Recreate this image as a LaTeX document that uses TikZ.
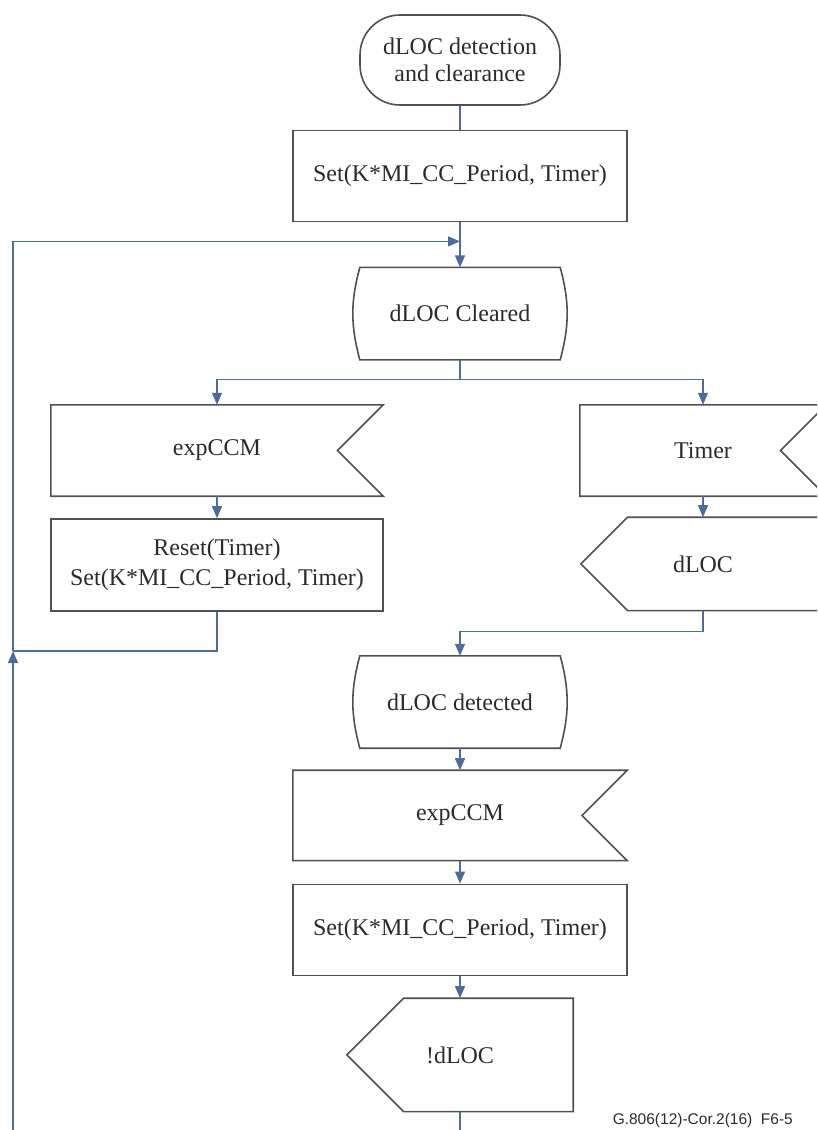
\documentclass[tikz,border=0pt]{standalone}
\usepackage{fontspec}
\setmainfont{Liberation Serif}
\newfontfamily\capfont{Liberation Sans}
\usepackage{xcolor}
\usepackage{tikz}
\usetikzlibrary{arrows.meta,positioning,calc}
\definecolor{boxgray}{HTML}{505050}
\definecolor{flowblue}{HTML}{4D6B9C}
\definecolor{txtgray}{HTML}{2B2B2B}
\tikzset{
  base/.style={align=center,font=\fontsize{24}{30}\selectfont,text=txtgray,inner sep=2pt},
  outline/.style={draw=boxgray,line width=1.6pt},
  termbox/.style={base,outline,rounded corners=40pt,minimum width=200pt,minimum height=90pt,font=\fontsize{24}{27}\selectfont},
  procbox/.style={base,outline,minimum width=334pt,minimum height=91pt},
  statebox/.style={base,minimum width=200pt,minimum height=92pt},
  insig/.style={base,minimum width=334pt,minimum height=91pt},
  outsig/.style={base,minimum height=93pt},
  ln/.style={draw=flowblue,line width=1.3pt},
  ar/.style={ln,-{Triangle[length=12pt,width=10pt]}},
}
\begin{document}
\begin{tikzpicture}[x=1pt,y=1pt]
  \useasboundingbox (0,0) rectangle (817,-1130);
  \clip (0,0) rectangle (817,-1130);
  \node[termbox] (start) at (460,-60) {dLOC detection\\and clearance};
  \node[procbox,below=24pt of start] (setA) {Set(K*MI\_CC\_Period, Timer)};
  \node[statebox,below=45pt of setA] (clr) {dLOC Cleared};
  \node[insig,minimum width=332pt,below=45pt of clr,xshift=-243pt] (expA) {expCCM};
  \node[insig,minimum width=246pt,below=45pt of clr,xshift=243pt] (tmr) {Timer};
  \node[procbox,minimum width=332pt,minimum height=92pt,below=22pt of expA] (rst) {Reset(Timer)\\Set(K*MI\_CC\_Period, Timer)};
  \node[outsig,minimum width=244pt,below=21pt of tmr] (dloc) {dLOC};
  \coordinate (midB) at (rst.south -| clr.south);
  \node[statebox,below=44pt of midB] (det) {dLOC detected};
  \node[insig,minimum height=90pt,below=22pt of det] (expB) {expCCM};
  \node[procbox,below=23pt of expB] (setB) {Set(K*MI\_CC\_Period, Timer)};
  \node[outsig,minimum width=226pt,minimum height=113pt,below=22pt of setB] (ndloc) {!dLOC};
  \node[font=\capfont\fontsize{15.5}{18}\selectfont,text=txtgray,anchor=base east,inner sep=0pt] (cap) at (793,-1124) {G.806(12)-Cor.2(16)\ \ F6-5};

  % state, input and output symbols
  \foreach \s in {clr,det}
    \draw[outline] (\s.north west) to[bend right=15] (\s.south west) -- (\s.south east) to[bend right=15] (\s.north east) -- cycle;
  \foreach \s in {expA,tmr,expB}
    \draw[outline] let \p1=(\s.north east), \p2=(\s.south east) in
      (\s.north west) -- (\p1) -- (\x1-0.5*\y1+0.5*\y2,0.5*\y1+0.5*\y2) -- (\p2) -- (\s.south west) -- cycle;
  \foreach \s in {dloc,ndloc}
    \draw[outline] let \p1=(\s.north west), \p2=(\s.south west) in
      (\s.north east) -- (\x1+0.5*\y1-0.5*\y2,\y1) -- (\x1,0.5*\y1+0.5*\y2) -- (\x1+0.5*\y1-0.5*\y2,\y2) -- (\s.south east) -- cycle;

  \coordinate (loopT) at ($(setA.south)+(0,-19)$);
  \coordinate (loopL) at (13,-651);
  \coordinate (baseL) at (13,-1140);
  \coordinate (brA) at ($(clr.south)+(0,-20)$);
  \coordinate (mrg) at ($(dloc.south)+(0,-21)$);
  \coordinate (baseC) at (ndloc.south |- baseL);

  \draw[ln] (start) -- (setA);
  \draw[ar] (setA) -- (clr);
  \draw[ar] (baseL) -- (loopL);
  \draw[ar] (loopL) |- (loopT);
  \draw[ln] (clr) -- (brA);
  \draw[ar] (brA) -| (expA.north);
  \draw[ar] (brA) -| (tmr.north);
  \draw[ar] (expA) -- (rst);
  \draw[ar] (tmr) -- (dloc);
  \draw[ln] (rst.south) |- (loopL);
  \draw[ln] (dloc.south) -- (mrg);
  \draw[ar] (mrg) -| (det.north);
  \draw[ar] (det) -- (expB);
  \draw[ar] (expB) -- (setB);
  \draw[ar] (setB) -- (ndloc);
  \draw[ln] (ndloc.south) -- (baseC);
\end{tikzpicture}
\end{document}
